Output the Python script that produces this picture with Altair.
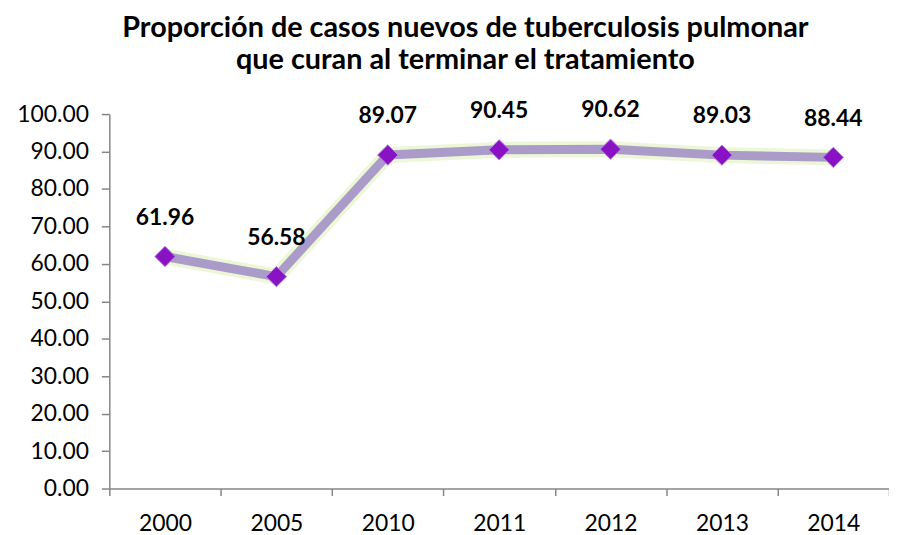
import altair as alt
import pandas as pd

years = ["2000", "2005", "2010", "2011", "2012", "2013", "2014"]
values = [61.96, 56.58, 89.07, 90.45, 90.62, 89.03, 88.44]

df = pd.DataFrame({"year": years, "value": values})

FONT = "Lato"

x = alt.X("year:N", sort=years, title=None,
          scale=alt.Scale(paddingInner=0, paddingOuter=0),
          axis=alt.Axis(labelAngle=0, tickBand="extent", labelFontSize=23,
                        labelFont=FONT, labelColor="#000000", domainColor="#868686",
                        domainWidth=1.5, tickColor="#868686", tickSize=7, tickWidth=1.5,
                        labelPadding=17))
y = alt.Y("value:Q", title=None,
          scale=alt.Scale(domain=[0, 100], nice=False, zero=True),
          axis=alt.Axis(values=list(range(0, 101, 10)), format=".2f", labelFontSize=23,
                        labelFont=FONT, labelColor="#000000", domainColor="#868686",
                        domainWidth=1.5, tickColor="#868686", tickSize=8, tickWidth=1.5,
                        labelPadding=13, grid=False))

base = alt.Chart(df).encode(x=x, y=y)

glow = base.mark_line(color="#e6f5cc", strokeWidth=16, opacity=0.8, strokeJoin="round")
line = base.mark_line(color="#ab9bc9", strokeWidth=9, strokeJoin="round")
pts = base.mark_point(shape="diamond", filled=True, size=420, color="#8812c4",
                      stroke="#b57ee0", strokeWidth=1, opacity=1)
labels = base.mark_text(dy=-39, fontSize=23, fontWeight="bold", font=FONT,
                        color="#000000", align="center", baseline="middle").encode(
    text=alt.Text("value:Q", format=".2f"))

chart = (glow + line + pts + labels).properties(
    width=785, height=377,
    autosize=alt.AutoSizeParams(type="none"),
    padding={"left": 102, "top": 105, "right": 0, "bottom": 45},
    title=alt.TitleParams(
        text=["Proporción de casos nuevos de tuberculosis pulmonar",
              "que curan al terminar el tratamiento"],
        fontSize=29, font=FONT, fontWeight="bold", color="#000000",
        lineHeight=32, anchor="middle", dx=-34, offset=25, frame="group"),
).configure_view(stroke=None)

chart.save("out.html", embed_options={"renderer": "svg", "actions": False})
